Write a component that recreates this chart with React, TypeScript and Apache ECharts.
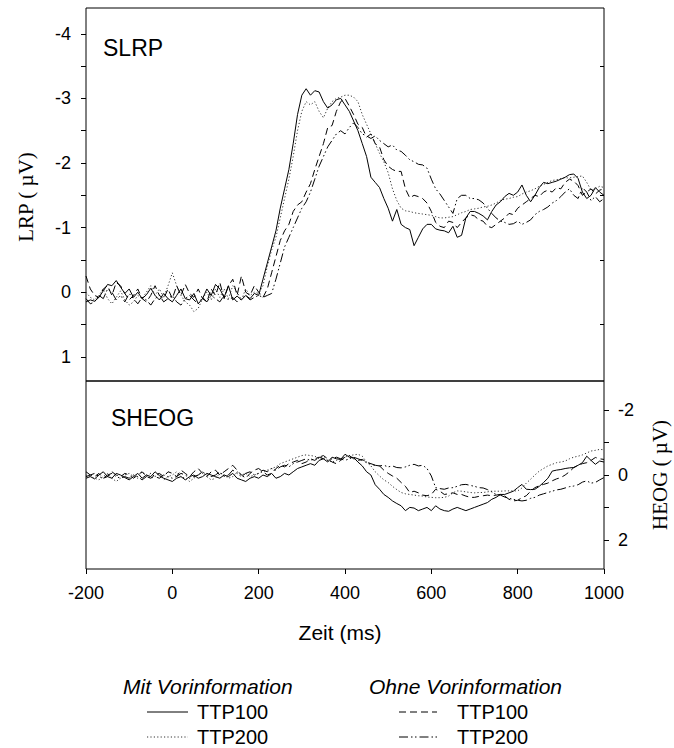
import React, { useEffect, useRef } from "react";
import * as echarts from "echarts";

// time axis in ms (10 ms steps, -200 .. 1000)
const TIME: number[] = Array.from({ length: 121 }, (_, i) => -200 + i * 10);

const X_TICKS = [-200, 0, 200, 400, 600, 800, 1000];
const LRP_TICKS = [-4, -3.5, -3, -2.5, -2, -1.5, -1, -0.5, 0, 0.5, 1];
const LRP_LABELS = [-4, -3, -2, -1, 0, 1];
const LRP_RIGHT_TICKS = [-3.5, -2.5, -1.5, -0.5, 0.5];
const HEOG_TICKS = [-2, -1, 0, 1, 2];
const HEOG_LABELS = [-2, 0, 2];

// SLRP (µV)
const lrpMit100 = [
  0.15, 0.12, 0.14, 0.08, -0.02, -0.12, -0.1, -0.18, -0.08, 0.02,
  -0.05, 0.08, 0.0, 0.1, 0.04, -0.06, 0.05, 0.12, 0.02, 0.1,
  0.15, 0.05, -0.05, 0.1, 0.12, 0.02, 0.18, 0.1, -0.05, 0.05,
  -0.12, -0.05, 0.08, -0.1, 0.12, 0.06, 0.12, 0.05, 0.1, 0.02,
  0.05, -0.2, -0.45, -0.7, -0.95, -1.3, -1.6, -1.9, -2.3, -2.75,
  -3.05, -3.15, -3.05, -3.12, -3.1, -2.95, -2.85, -2.9, -2.98, -3.0,
  -2.9, -2.8, -2.65, -2.5, -2.3, -2.1, -1.78, -1.7, -1.62, -1.45,
  -1.3, -1.1, -1.28, -1.05, -1.0, -0.97, -0.72, -0.85, -0.98, -1.05,
  -1.05, -0.98, -0.96, -0.95, -0.92, -1.02, -0.85, -0.88, -1.15, -1.25,
  -1.25, -1.22, -1.18, -1.12, -1.25, -1.35, -1.4, -1.48, -1.53, -1.5,
  -1.55, -1.66, -1.5, -1.4, -1.5, -1.62, -1.7, -1.68, -1.7, -1.72,
  -1.75, -1.78, -1.82, -1.83, -1.76, -1.55, -1.45, -1.5, -1.62, -1.55,
  -1.5,
];
const lrpMit200 = [
  0.0, 0.08, 0.12, 0.05, -0.05, 0.1, 0.18, 0.08, -0.02, 0.12,
  0.2, 0.15, 0.05, 0.1, 0.0, -0.1, 0.05, -0.05, 0.08, -0.1,
  -0.3, -0.1, 0.05, 0.15, 0.2, 0.3, 0.25, 0.1, 0.0, 0.12,
  -0.05, 0.08, -0.05, 0.1, -0.1, 0.0, 0.12, -0.05, 0.05, 0.0,
  0.02, -0.1, -0.4, -0.65, -0.85, -1.15, -1.45, -1.75, -2.1, -2.5,
  -2.8, -2.95, -2.9, -2.95, -2.8, -2.7, -2.85, -2.95, -3.0, -3.02,
  -3.05, -3.05, -3.02, -2.95, -2.75, -2.6, -2.45, -2.3, -2.15, -2.02,
  -1.85, -1.6, -1.42, -1.3, -1.26, -1.25, -1.23, -1.22, -1.21, -1.2,
  -1.19, -1.17, -1.15, -1.15, -1.16, -1.17, -1.2, -1.23, -1.25, -1.28,
  -1.29, -1.3, -1.32, -1.33, -1.35, -1.38, -1.42, -1.44, -1.45, -1.47,
  -1.48, -1.52, -1.55, -1.57, -1.6, -1.64, -1.67, -1.7, -1.73, -1.74,
  -1.76, -1.77, -1.77, -1.78, -1.79, -1.8, -1.7, -1.58, -1.6, -1.64,
  -1.62,
];
const lrpOhne100 = [
  -0.25, -0.05, 0.05, 0.08, -0.05, -0.1, 0.05, -0.15, -0.1, 0.02,
  0.12, 0.05, -0.05, 0.1, 0.15, 0.05, -0.1, 0.05, 0.1, -0.05,
  0.1, -0.1, 0.05, -0.12, 0.02, 0.08, -0.05, 0.1, 0.15, -0.05,
  0.05, -0.15, 0.1, -0.1, -0.2, 0.05, -0.25, 0.0, 0.05, -0.1,
  0.0, 0.08, -0.05, -0.3, -0.55, -0.8, -0.95, -1.05, -1.25, -1.35,
  -1.4, -1.55, -1.68, -1.9, -2.1, -2.3, -2.55, -2.58, -2.8, -2.95,
  -3.0, -2.88, -2.75, -2.6, -2.55, -2.4, -2.45, -2.3, -2.25, -2.05,
  -1.95, -1.9, -1.87, -1.87, -1.6, -1.46, -1.5, -1.48, -1.45, -1.38,
  -1.25, -1.08, -1.02, -1.0, -1.1, -1.08, -1.0, -1.08, -1.15, -1.2,
  -1.18, -1.12, -1.1, -1.02, -1.0, -1.05, -1.1, -1.15, -1.22, -1.2,
  -1.3, -1.35, -1.4, -1.45, -1.5, -1.48, -1.55, -1.58, -1.55, -1.62,
  -1.6, -1.7, -1.75, -1.72, -1.65, -1.5, -1.55, -1.6, -1.52, -1.58,
  -1.6,
];
const lrpOhne200 = [
  0.1, 0.18, 0.15, 0.05, 0.1, -0.05, 0.0, 0.12, 0.05, 0.15,
  0.02, 0.1, 0.18, 0.08, 0.12, 0.2, 0.1, 0.05, 0.15, 0.1,
  0.05, 0.15, 0.2, 0.1, 0.05, 0.12, 0.18, 0.08, 0.15, 0.05,
  0.1, 0.15, 0.05, 0.12, 0.08, 0.15, 0.1, 0.05, 0.12, 0.08,
  0.05, 0.08, 0.05, 0.02, -0.2, -0.45, -0.7, -0.85, -1.0, -1.15,
  -1.3, -1.4, -1.55, -1.75, -1.95, -2.1, -2.25, -2.35, -2.45, -2.5,
  -2.45, -2.55, -2.62, -2.55, -2.45, -2.42, -2.38, -2.42, -2.35, -2.3,
  -2.25, -2.28, -2.2, -2.18, -2.12, -2.05, -2.02, -1.98, -1.97, -1.92,
  -1.75, -1.6, -1.52, -1.42, -1.32, -1.22, -1.45, -1.5, -1.5, -1.45,
  -1.45, -1.43, -1.38, -1.3, -1.22, -1.15, -1.1, -1.08, -1.05, -1.06,
  -1.1, -1.05, -1.08, -1.12, -1.2, -1.25, -1.28, -1.32, -1.38, -1.42,
  -1.48, -1.55, -1.6, -1.5, -1.45, -1.62, -1.55, -1.42, -1.48, -1.4,
  -1.45,
];

// SHEOG (µV)
const heogMit100 = [
  0.1, 0.05, 0.12, 0.0, -0.1, 0.05, 0.1, -0.05, 0.0, 0.08,
  0.15, 0.05, -0.05, 0.1, 0.0, 0.05, -0.1, 0.02, 0.1, 0.15,
  0.2, 0.1, 0.05, 0.15, 0.05, 0.0, 0.1, 0.05, -0.05, 0.0,
  0.05, 0.1, 0.0, 0.05, -0.05, 0.1, 0.15, 0.2, 0.1, 0.05,
  0.1, 0.0, 0.05, -0.05, 0.1, 0.05, -0.05, 0.0, -0.1, -0.2,
  -0.25, -0.3, -0.35, -0.3, -0.45, -0.5, -0.4, -0.55, -0.5, -0.48,
  -0.64, -0.55, -0.54, -0.4, -0.28, -0.1, 0.0, 0.3, 0.44, 0.6,
  0.69, 0.8, 0.88, 0.95, 1.1, 1.0, 1.02, 1.1, 1.05, 1.0,
  1.1, 0.95, 1.05, 1.1, 1.12, 1.05, 1.0, 1.05, 1.1, 1.05,
  1.0, 0.95, 0.9, 0.85, 0.75, 0.69, 0.6, 0.6, 0.55, 0.5,
  0.39, 0.29, 0.44, 0.45, 0.44, 0.35, 0.23, 0.1, -0.12, -0.15,
  -0.17, -0.2, -0.22, -0.23, -0.3, -0.38, -0.58, -0.45, -0.33, -0.43,
  -0.4,
];
const heogMit200 = [
  0.0, 0.05, 0.1, 0.15, 0.05, -0.05, 0.1, 0.2, 0.1, 0.0,
  -0.05, 0.05, 0.1, -0.1, 0.0, 0.1, 0.05, -0.05, 0.15, 0.05,
  0.0, -0.1, 0.05, 0.1, 0.2, 0.1, 0.0, -0.1, 0.05, 0.15,
  0.1, -0.05, 0.0, 0.1, 0.05, -0.1, 0.0, -0.05, 0.05, 0.0,
  -0.05, -0.1, -0.15, -0.2, -0.25, -0.35, -0.4, -0.45, -0.5, -0.55,
  -0.6, -0.62, -0.6, -0.58, -0.5, -0.55, -0.45, -0.4, -0.45, -0.5,
  -0.55, -0.6, -0.62, -0.64, -0.58, -0.4, -0.28, -0.1, 0.03, 0.15,
  0.23, 0.35, 0.45, 0.54, 0.58, 0.6, 0.62, 0.64, 0.65, 0.68,
  0.69, 0.7, 0.7, 0.69, 0.65, 0.55, 0.49, 0.5, 0.52, 0.54,
  0.55, 0.54, 0.54, 0.52, 0.5, 0.5, 0.5, 0.49, 0.49, 0.49,
  0.49, 0.4, 0.25, 0.13, 0.0, -0.12, -0.2, -0.28, -0.33, -0.38,
  -0.4, -0.43, -0.5, -0.55, -0.58, -0.62, -0.68, -0.74, -0.76, -0.79,
  -0.78,
];
const heogOhne100 = [
  -0.1, 0.0, 0.05, -0.05, 0.1, 0.05, -0.1, 0.0, 0.05, -0.05,
  0.0, 0.1, 0.0, -0.1, 0.05, 0.1, 0.0, -0.05, 0.05, -0.1,
  -0.05, 0.05, -0.15, -0.05, 0.05, -0.1, -0.2, -0.05, 0.05, -0.1,
  -0.15, 0.0, -0.1, -0.2, -0.3, -0.15, 0.0, 0.1, -0.05, -0.15,
  -0.2, -0.1, 0.0, -0.05, -0.2, -0.3, -0.25, -0.35, -0.4, -0.45,
  -0.35, -0.4, -0.5, -0.45, -0.55, -0.6, -0.5, -0.4, -0.35, -0.45,
  -0.55, -0.6, -0.5, -0.45, -0.48, -0.4, -0.35, -0.3, -0.28, -0.15,
  -0.05, 0.03, 0.1, 0.23, 0.35, 0.54, 0.5, 0.55, 0.62, 0.64,
  0.6, 0.44, 0.5, 0.6, 0.58, 0.55, 0.6, 0.6, 0.65, 0.69,
  0.69, 0.66, 0.64, 0.62, 0.64, 0.62, 0.6, 0.65, 0.75, 0.8,
  0.78, 0.7, 0.64, 0.5, 0.39, 0.33, 0.29, 0.25, 0.18, 0.12,
  0.08, 0.0, -0.1, -0.23, -0.3, -0.35, -0.38, -0.45, -0.54, -0.5,
  -0.48,
];
const heogOhne200 = [
  0.05, 0.0, -0.05, 0.05, 0.1, 0.0, -0.05, 0.05, 0.1, 0.05,
  0.1, 0.0, 0.05, 0.15, 0.05, -0.05, 0.05, 0.1, 0.0, 0.05,
  0.1, 0.05, -0.05, 0.0, 0.1, 0.05, 0.0, -0.1, 0.0, 0.05,
  0.0, -0.1, 0.05, 0.0, -0.15, -0.05, 0.05, -0.05, -0.1, 0.0,
  -0.05, -0.15, -0.1, -0.2, -0.15, -0.25, -0.3, -0.25, -0.35, -0.4,
  -0.45, -0.5, -0.45, -0.5, -0.55, -0.5, -0.45, -0.5, -0.55, -0.5,
  -0.45, -0.5, -0.55, -0.5, -0.45, -0.38, -0.33, -0.3, -0.28, -0.3,
  -0.25, -0.28, -0.23, -0.22, -0.25, -0.3, -0.33, -0.28, -0.3, -0.2,
  0.03, 0.39, 0.42, 0.44, 0.4, 0.39, 0.35, 0.3, 0.29, 0.32,
  0.35, 0.39, 0.4, 0.45, 0.52, 0.6, 0.62, 0.68, 0.72, 0.75,
  0.78, 0.8, 0.78, 0.72, 0.69, 0.62, 0.58, 0.54, 0.5, 0.46,
  0.44, 0.4, 0.36, 0.34, 0.3, 0.22, 0.18, 0.25, 0.23, 0.15,
  0.08,
];

const SANS = "'Liberation Sans', Arial, sans-serif";
const SERIF = "'Liberation Serif', 'Times New Roman', serif";

const SOLID: any = "solid";
const DOTTED: any = [1.2, 2.2];
const DASHED: any = [7, 4];
const DASHDOT: any = [9, 3, 1.5, 2.5, 1.5, 3];

function pairs(v: number[]) {
  return TIME.map((t, i) => [t, v[i]]);
}

function lineSeries(name: string, v: number[], dash: any, xi: number, yi: number, color = "#000") {
  return {
    name,
    type: "line",
    xAxisIndex: xi,
    yAxisIndex: yi,
    data: pairs(v),
    showSymbol: false,
    symbol: "none",
    clip: true,
    lineStyle: { color, width: 1, type: dash },
  };
}

const plainLabel = (v: number) => String(v);

export default function App() {
  const ref = useRef<HTMLDivElement>(null);
  useEffect(() => {
    if (!ref.current) return;
    const chart = echarts.init(ref.current, null, { renderer: "svg" });
    const tickStyle = { color: "#000", width: 1 };
    const option: any = {
      animation: false,
      backgroundColor: "#fff",
      grid: [
        { left: 86, top: 8, width: 518, height: 373, show: true, borderColor: "#000", borderWidth: 1, containLabel: false, outerBoundsMode: "none" },
        { left: 86, top: 381, width: 518, height: 188, show: true, borderColor: "#000", borderWidth: 1, containLabel: false, outerBoundsMode: "none" },
      ],
      xAxis: [
        { gridIndex: 0, type: "value", min: -200, max: 1000, show: false },
        {
          gridIndex: 1, type: "value", min: -200, max: 1000, interval: 200, position: "bottom",
          axisLine: { show: false, onZero: false },
          axisTick: { show: true, length: 5, inside: false, lineStyle: tickStyle, customValues: X_TICKS },
          axisLabel: { fontSize: 18, fontFamily: SANS, color: "#000", margin: 15, customValues: X_TICKS, formatter: plainLabel },
          splitLine: { show: false },
        },
      ],
      yAxis: [
        {
          gridIndex: 0, type: "value", position: "left", inverse: true, min: -4.4, max: 1.375,
          axisLine: { show: false, onZero: false },
          axisTick: { show: true, length: 5, inside: false, lineStyle: tickStyle, customValues: LRP_TICKS },
          axisLabel: { fontSize: 18, fontFamily: SANS, color: "#000", margin: 15, customValues: LRP_LABELS, formatter: plainLabel },
          splitLine: { show: false },
        },
        {
          gridIndex: 0, type: "value", position: "right", inverse: true, min: -4.4, max: 1.375,
          axisLine: { show: false, onZero: false },
          axisTick: { show: true, length: 4, inside: true, lineStyle: tickStyle, customValues: LRP_RIGHT_TICKS },
          axisLabel: { show: false },
          splitLine: { show: false },
        },
        {
          gridIndex: 1, type: "value", position: "right", inverse: true, min: -2.9, max: 2.9,
          axisLine: { show: false, onZero: false },
          axisTick: { show: true, length: 5, inside: false, lineStyle: tickStyle, customValues: HEOG_TICKS },
          axisLabel: { fontSize: 18, fontFamily: SANS, color: "#000", margin: 14, customValues: HEOG_LABELS, formatter: plainLabel },
          splitLine: { show: false },
        },
      ],
      series: [
        lineSeries("LRP Mit TTP100", lrpMit100, SOLID, 0, 0),
        lineSeries("LRP Mit TTP200", lrpMit200, DOTTED, 0, 0, "#333"),
        lineSeries("LRP Ohne TTP100", lrpOhne100, DASHED, 0, 0),
        lineSeries("LRP Ohne TTP200", lrpOhne200, DASHDOT, 0, 0),
        lineSeries("HEOG Mit TTP100", heogMit100, SOLID, 1, 2),
        lineSeries("HEOG Mit TTP200", heogMit200, DOTTED, 1, 2, "#333"),
        lineSeries("HEOG Ohne TTP100", heogOhne100, DASHED, 1, 2),
        lineSeries("HEOG Ohne TTP200", heogOhne200, DASHDOT, 1, 2),
      ],
      graphic: [
        { type: "text", x: 103, y: 48, style: { text: "SLRP", font: `23px ${SANS}`, fill: "#000", verticalAlign: "middle" } },
        { type: "text", x: 111, y: 418, style: { text: "SHEOG", font: `23px ${SANS}`, fill: "#000", verticalAlign: "middle" } },
        { type: "text", x: 26, y: 197, rotation: Math.PI / 2, style: { text: "LRP ( µV)", font: `21px ${SERIF}`, fill: "#000", align: "center", verticalAlign: "middle" } },
        { type: "text", x: 660, y: 475, rotation: Math.PI / 2, style: { text: "HEOG ( µV)", font: `21px ${SERIF}`, fill: "#000", align: "center", verticalAlign: "middle" } },
        { type: "text", x: 340, y: 632, style: { text: "Zeit (ms)", font: `21px ${SANS}`, fill: "#000", align: "center", verticalAlign: "middle" } },
        { type: "text", x: 123, y: 686, style: { text: "Mit Vorinformation", font: `italic 21px ${SANS}`, fill: "#000", verticalAlign: "middle" } },
        { type: "text", x: 369, y: 686, style: { text: "Ohne Vorinformation", font: `italic 21px ${SANS}`, fill: "#000", verticalAlign: "middle" } },
        { type: "line", shape: { x1: 147, y1: 712, x2: 188, y2: 712 }, style: { stroke: "#000", lineWidth: 1 } },
        { type: "line", shape: { x1: 147, y1: 737, x2: 188, y2: 737 }, style: { stroke: "#333", lineWidth: 1, lineDash: DOTTED } },
        { type: "line", shape: { x1: 399, y1: 712, x2: 437, y2: 712 }, style: { stroke: "#000", lineWidth: 1, lineDash: DASHED } },
        { type: "line", shape: { x1: 399, y1: 737, x2: 437, y2: 737 }, style: { stroke: "#000", lineWidth: 1, lineDash: DASHDOT } },
        { type: "text", x: 197, y: 712, style: { text: "TTP100", font: `20px ${SANS}`, fill: "#000", verticalAlign: "middle" } },
        { type: "text", x: 197, y: 737, style: { text: "TTP200", font: `20px ${SANS}`, fill: "#000", verticalAlign: "middle" } },
        { type: "text", x: 457, y: 712, style: { text: "TTP100", font: `20px ${SANS}`, fill: "#000", verticalAlign: "middle" } },
        { type: "text", x: 457, y: 737, style: { text: "TTP200", font: `20px ${SANS}`, fill: "#000", verticalAlign: "middle" } },
      ],
    };
    chart.setOption(option);
    return () => chart.dispose();
  }, []);
  return (
    <div
      ref={ref}
      style={{ position: "fixed", left: 0, top: 0, width: 674, height: 748, background: "#fff" }}
    />
  );
}
